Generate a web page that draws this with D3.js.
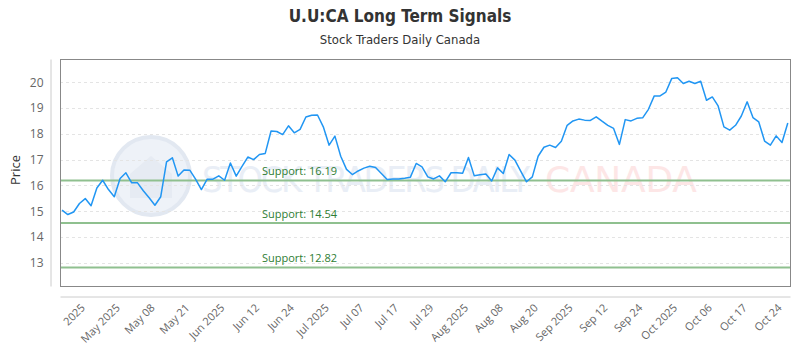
<!DOCTYPE html>
<html>
<head>
<meta charset="utf-8">
<script src="https://cdn.jsdelivr.net/npm/d3@7"></script>
<style>
  body { margin: 0; background: #fff; }
  svg { display: block; }
</style>
</head>
<body>
<div id="chart"></div>
<script>
// ----------------------
// Data
// ----------------------
const prices = [
  15.04, 14.87, 14.97, 15.30, 15.49, 15.21, 15.90, 16.20, 15.84, 15.56,
  16.27, 16.49, 16.10, 16.10, 15.79, 15.52, 15.23, 15.56, 16.91, 17.07,
  16.36, 16.60, 16.59, 16.24, 15.84, 16.24, 16.24, 16.37, 16.20, 16.87,
  16.36, 16.74, 17.10, 17.00, 17.20, 17.24, 18.11, 18.09, 17.97, 18.31,
  18.04, 18.17, 18.65, 18.72, 18.73, 18.27, 17.56, 17.91, 17.13, 16.62,
  16.42, 16.56, 16.67, 16.74, 16.69, 16.46, 16.23, 16.25, 16.25, 16.28,
  16.32, 16.85, 16.72, 16.33, 16.25, 16.37, 16.14, 16.49, 16.49, 16.47,
  17.08, 16.37, 16.41, 16.44, 16.17, 16.68, 16.46, 17.20, 16.98, 16.55,
  16.14, 16.33, 17.13, 17.48, 17.56, 17.47, 17.71, 18.33, 18.50, 18.57,
  18.53, 18.52, 18.66, 18.49, 18.33, 18.21, 17.59, 18.55, 18.50, 18.60,
  18.62, 18.95, 19.47, 19.47, 19.62, 20.14, 20.17, 19.95, 20.04, 19.95,
  20.04, 19.30, 19.43, 19.08, 18.27, 18.14, 18.33, 18.69, 19.24, 18.63,
  18.46, 17.72, 17.56, 17.92, 17.66, 18.42
];

const xLabels = [
  "2025", "May 2025", "May 08", "May 21", "Jun 2025", "Jun 12", "Jun 24",
  "Jul 2025", "Jul 07", "Jul 17", "Jul 29", "Aug 2025", "Aug 08", "Aug 20",
  "Sep 2025", "Sep 12", "Sep 24", "Oct 2025", "Oct 06", "Oct 17", "Oct 24"
];
// data index that each label sits on
const xLabelIndex = xLabels.map((d, i) => 4 + i * 6);

const yTicks = [13, 14, 15, 16, 17, 18, 19, 20];

const supportLevels = [16.19, 14.54, 12.82];

// ----------------------
// Setup
// ----------------------
const W = 800, H = 350;
const plot = { left: 60, right: 790, top: 59, bottom: 286 };

const svg = d3.select("#chart")
    .append("svg")
    .attr("width", W)
    .attr("height", H);

const x = d3.scaleLinear()
    .domain([-0.35, prices.length - 1 + 0.38])
    .range([plot.left, plot.right]);

const y = d3.scaleLinear()
    .domain([12.1, 20.9])
    .range([plot.bottom, plot.top]);

// ----------------------
// Title
// ----------------------
svg.append("text")
    .attr("x", W / 2).attr("y", 22)
    .attr("text-anchor", "middle")
    .style("font-family", "'Liberation Sans Narrow', 'DejaVu Sans Condensed', sans-serif")
    .style("font-weight", "bold")
    .style("font-size", "17px")
    .attr("fill", "#333")
    .text("U.U:CA Long Term Signals");

svg.append("text")
    .attr("x", W / 2).attr("y", 44)
    .attr("text-anchor", "middle")
    .style("font-family", "'Liberation Sans Narrow', 'DejaVu Sans Condensed', sans-serif")
    .style("font-size", "13px")
    .attr("fill", "#333")
    .text("Stock Traders Daily Canada");

// ----------------------
// Watermark (faded logo behind the plot)
// ----------------------
const wm = svg.append("g");
wm.append("circle")
    .attr("cx", 151).attr("cy", 176).attr("r", 39)
    .attr("fill", "#eef2f8")
    .attr("stroke", "#e2e8f1")
    .attr("stroke-width", 4);
wm.append("path")
    .attr("d", "M130,198 L130,174 L151,156 L172,174 L172,198 Z")
    .attr("fill", "#e6ebf3");
wm.append("text")
    .attr("x", 202).attr("y", 192)
    .attr("textLength", 328)
    .attr("lengthAdjust", "spacing")
    .style("font-family", "'Liberation Sans Narrow', 'DejaVu Sans Condensed', sans-serif")
    .style("font-size", "36px")
    .attr("fill", "#e9eef6")
    .text("STOCK TRADERS DAILY");
wm.append("text")
    .attr("x", 545).attr("y", 192)
    .attr("textLength", 152)
    .attr("lengthAdjust", "spacing")
    .style("font-family", "'DejaVu Sans', sans-serif")
    .style("font-size", "36px")
    .attr("fill", "#fde6e6")
    .text("CANADA");

// ----------------------
// Grid
// ----------------------
svg.append("g")
    .selectAll("line")
    .data(yTicks)
    .join("line")
    .attr("x1", plot.left).attr("x2", plot.right)
    .attr("y1", d => Math.round(y(d)) + 0.5)
    .attr("y2", d => Math.round(y(d)) + 0.5)
    .attr("stroke", "#e4e4e4")
    .attr("stroke-dasharray", "3,3");

// plot border
svg.append("rect")
    .attr("x", plot.left + 0.5).attr("y", plot.top + 0.5)
    .attr("width", plot.right - plot.left)
    .attr("height", plot.bottom - plot.top)
    .attr("fill", "none")
    .attr("stroke", "#888");

// ----------------------
// Support lines
// ----------------------
const sup = svg.append("g");
sup.selectAll("line")
    .data(supportLevels)
    .join("line")
    .attr("x1", plot.left + 1).attr("x2", plot.right)
    .attr("y1", d => y(d)).attr("y2", d => y(d))
    .attr("stroke", "#8fc08f")
    .attr("stroke-width", 2);

sup.selectAll("text")
    .data(supportLevels)
    .join("text")
    .attr("x", 262)
    .attr("y", d => y(d) - 5)
    .style("font-family", "'Open Sans', sans-serif")
    .style("font-size", "11px")
    .attr("fill", "#2e7d32")
    .text(d => "Support: " + d.toFixed(2));

// ----------------------
// Price line
// ----------------------
const line = d3.line()
    .x((d, i) => x(i))
    .y(d => y(d));

svg.append("path")
    .datum(prices)
    .attr("d", line)
    .attr("fill", "none")
    .attr("stroke", "#2196f3")
    .attr("stroke-width", 1.5)
    .attr("stroke-linejoin", "round");

// ----------------------
// Axes
// ----------------------
const yAxis = svg.append("g")
    .attr("transform", "translate(50.5,0)")
    .call(d3.axisLeft(y).tickValues(yTicks).tickSize(0).tickSizeOuter(0).tickPadding(7));
yAxis.select(".domain").attr("stroke", "#ccc");
yAxis.selectAll("text")
    .style("font-family", "'Open Sans', sans-serif")
    .style("font-size", "12px")
    .attr("fill", "#666");

const xAxis = svg.append("g")
    .attr("transform", "translate(0,296.5)")
    .call(d3.axisBottom(x)
        .tickValues(xLabelIndex)
        .tickFormat((d, i) => xLabels[i])
        .tickSize(0).tickSizeOuter(0));
xAxis.select(".domain").attr("stroke", "#ccc");
xAxis.selectAll("text")
    .attr("y", 0).attr("dy", 0)
    .attr("transform", "translate(0,12) rotate(-45)")
    .style("text-anchor", "end")
    .style("font-family", "'Open Sans', sans-serif")
    .style("font-size", "11px")
    .attr("fill", "#666");

// axis title
svg.append("text")
    .attr("transform", "translate(20,170) rotate(-90)")
    .attr("text-anchor", "middle")
    .style("font-family", "'Open Sans', sans-serif")
    .style("font-size", "13px")
    .attr("fill", "#333")
    .text("Price");
</script>
</body>
</html>
